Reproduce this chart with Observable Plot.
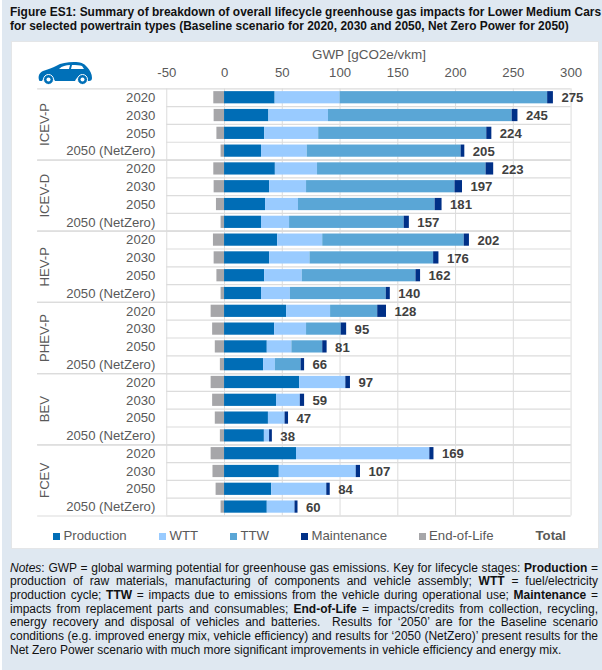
<!DOCTYPE html>
<html>
<head>
<meta charset="utf-8">
<script src="https://cdn.jsdelivr.net/npm/d3@7"></script>
<script src="https://cdn.jsdelivr.net/npm/@observablehq/plot@0.6"></script>
<style>
html,body{margin:0;padding:0;background:#fff;}
body{width:602px;height:670px;overflow:hidden;font-family:"Liberation Sans",Arial,sans-serif;position:relative;}
#page{position:absolute;left:2px;top:0;width:600px;height:670px;background:#dfe8f1;}
#title{position:absolute;left:8px;top:5px;width:590px;font-weight:bold;font-size:11.95px;line-height:14.2px;color:#111;white-space:nowrap;}
#panel{position:absolute;left:8.5px;top:41px;width:588px;height:508px;background:#fff;border:1px solid #e4e6e8;box-sizing:border-box;}
#chart{position:absolute;left:0;top:0;}
#chart svg{display:block;overflow:visible;}
#car{position:absolute;left:26px;top:19px;}
#legend{position:absolute;top:486px;left:0;width:100%;height:16px;font-size:13.2px;color:#595959;}
#legend span{position:absolute;top:0;line-height:16px;white-space:nowrap;}
#legend i{position:absolute;top:5px;width:7px;height:7px;}
#notes{position:absolute;left:8px;top:561.6px;width:588px;font-size:12px;line-height:13.72px;color:#111;text-align:justify;}
#notes div{text-align:justify;text-align-last:justify;white-space:nowrap;}
#notes div.last{text-align-last:left;}
</style>
</head>
<body>
<div id="page">
  <div id="title">Figure ES1: Summary of breakdown of overall lifecycle greenhouse gas impacts for Lower Medium Cars<br>for selected powertrain types (Baseline scenario for 2020, 2030 and 2050, Net Zero Power for 2050)</div>
  <div id="panel">
    <div id="chart"></div>
    <svg id="car" width="56" height="24" viewBox="0 0 56 24"><path fill="#0070b8" d="M1 19c-1-4 0-7 4-9 5-2 10-3 13-5 5-3 11-4 18-4 6 0 10 1 13 5 3 3 5 7 5 11 0 2-1 3-3 3h-1a7 7 0 0 0-13 0H17a7 7 0 0 0-13 0C2 20 1 20 1 19z"/><path fill="#fff" d="M21 8c3-3 7-4 11-4l-1 4zM34 4c4 0 8 0 10 1l2 3H33z"/><circle cx="10.5" cy="18.5" r="5" fill="#0070b8" stroke="#fff" stroke-width="1"/><circle cx="10.5" cy="18.5" r="2" fill="#fff"/><circle cx="44.5" cy="18.5" r="5" fill="#0070b8" stroke="#fff" stroke-width="1"/><circle cx="44.5" cy="18.5" r="2" fill="#fff"/></svg>
    <div id="legend"></div>
  </div>
  <div id="notes">
    <div><i>Notes</i>: GWP = global warming potential for greenhouse gas emissions. Key for lifecycle stages: <b>Production</b> =</div>
    <div>production of raw materials, manufacturing of components and vehicle assembly; <b>WTT</b> = fuel/electricity</div>
    <div>production cycle; <b>TTW</b> = impacts due to emissions from the vehicle during operational use; <b>Maintenance</b> =</div>
    <div>impacts from replacement parts and consumables; <b>End-of-Life</b> = impacts/credits from collection, recycling,</div>
    <div>energy recovery and disposal of vehicles and batteries.&nbsp; Results for ‘2050’ are for the Baseline scenario</div>
    <div>conditions (e.g. improved energy mix, vehicle efficiency) and results for ‘2050 (NetZero)’ present results for the</div>
    <div class="last">Net Zero Power scenario with much more significant improvements in vehicle efficiency and energy mix.</div>
  </div>
</div>
<script>
const powertrains = ["ICEV-P", "ICEV-D", "HEV-P", "PHEV-P", "BEV", "FCEV"];
const years = ["2020", "2030", "2050", "2050 (NetZero)"];
const stages = ["Production", "WTT", "TTW", "Maintenance", "End-of-Life"];
const stageColors = ["#006db6", "#99cbff", "#5aa6d6", "#003087", "#a6a6a9"];

const production  = [43.8,38.4,34.8,32, 44,39,35.5,32, 46,39,34.8,32, 53.7,43.4,37,33.8, 65,45,38,34.5, 62.3,47.4,40.8,37];
const wtt         = [56.2,51.6,46.7,39.6, 36.5,32,28.5,24.3, 39,35,32.5,25, 38.1,27.6,21.3,10.2, 40,20.6,14.4,4.5, 115.4,66.6,47.7,24];
const ttw         = [179.7,159,145.5,133.2, 145.9,128.5,118.3,99.2, 122.5,107,98.4,83, 40.8,30,26.7,22.3, 0,0,0,0, 0,0,0,0];
const maintenance = [5,5,4.4,3.2, 6.6,6.5,6,4.5, 4.5,4.6,4,3.5, 7.6,4.7,3.8,3, 4,3.7,3,2.4, 3.6,3.7,3,2.6];
const endOfLife   = [-9.3,-9,-6.6,-3, -9.3,-9,-7,-3, -9.6,-9,-6.6,-3, -11.6,-10.3,-8,-3.6, -11.6,-10.3,-8,-3.6, -11.6,-10,-7.3,-3];
const totals      = [275,245,224,205, 223,197,181,157, 202,176,162,140, 128,95,81,66, 97,59,47,38, 169,107,84,60];
const xTicks = [-50,0,50,100,150,200,250,300];

const series = [production, wtt, ttw, maintenance, endOfLife];
const rows = powertrains.flatMap(p => years.map(y => ({key: p + "|" + y, powertrain: p, year: y})));
const long = series.flatMap((vals, s) => rows.map((r, i) => ({key: r.key, stage: stages[s], value: vals[i]})));
const ends = rows.map((r, i) => ({key: r.key, total: totals[i], end: production[i] + wtt[i] + ttw[i] + maintenance[i]}));
const firsts = rows.filter(r => r.year === years[0]);
const seconds = rows.filter(r => r.year === years[1]);
const lasts = rows.filter(r => r.year === years[3]);

const rowH = 17.86, grey = "#dcdcdc";
const plot = Plot.plot({
  width: 588, height: 480,
  marginTop: 46.5, marginBottom: 4.9, marginLeft: 154.8, marginRight: 27.5,
  style: {fontFamily: "Liberation Sans, Arial, sans-serif", background: "transparent", overflow: "visible"},
  x: {domain: [-50, 300], axis: null},
  y: {domain: rows.map(r => r.key), padding: 0, round: false, axis: null},
  color: {domain: stages, range: stageColors},
  marks: [
    Plot.ruleX(xTicks, {stroke: grey, strokeWidth: 1}),
    Plot.ruleY(rows, {y: "key", dy: rowH / 2, x1: -50, x2: 300, stroke: grey, strokeWidth: 1.2}),
    Plot.ruleY(firsts, {y: "key", dy: -rowH / 2, x1: -161.8, x2: 300, stroke: grey, strokeWidth: 1.2}),
    Plot.ruleY(lasts, {y: "key", dy: rowH / 2, x1: -161.8, x2: 300, stroke: grey, strokeWidth: 1.2}),
    Plot.barX(long, {y: "key", x: "value", fill: "stage", insetTop: 2.8, insetBottom: 2.8}),
    Plot.text(ends, {x: "end", y: "key", text: d => String(d.total), textAnchor: "start", dx: 8, dy: 0.5, fontWeight: "bold", fontSize: 13.2, fill: "#404040"}),
    Plot.text(rows, {x: -50, y: "key", text: "year", textAnchor: "end", dx: -11.5, dy: 0, fontSize: 13.2, fill: "#595959"}),
    Plot.text(seconds, {x: -50, y: "key", text: "powertrain", dx: -122, dy: rowH / 2, rotate: -90, fontSize: 13.2, fill: "#595959"}),
    Plot.text(xTicks, {x: d => d, y: () => rows[0].key, text: d => String(d), dy: -25.5, fontSize: 13.2, fill: "#595959"}),
    Plot.text(["GWP [gCO2e/vkm]"], {x: 125, y: () => rows[0].key, text: d => d, dy: -43, fontSize: 13.5, fill: "#595959"})
  ]
});
document.getElementById("chart").appendChild(plot);

const legendX = [41, 147, 218.5, 289, 407];
const textX = [52, 158, 229, 300, 417.5];
const legend = document.getElementById("legend");
stages.forEach((s, i) => {
  const sw = document.createElement("i");
  sw.style.left = legendX[i] + "px"; sw.style.background = stageColors[i];
  const t = document.createElement("span");
  t.style.left = textX[i] + "px"; t.textContent = s;
  legend.append(sw, t);
});
const tot = document.createElement("span");
tot.style.left = "524px"; tot.style.fontWeight = "bold"; tot.textContent = "Total";
legend.append(tot);
</script>
</body>
</html>
